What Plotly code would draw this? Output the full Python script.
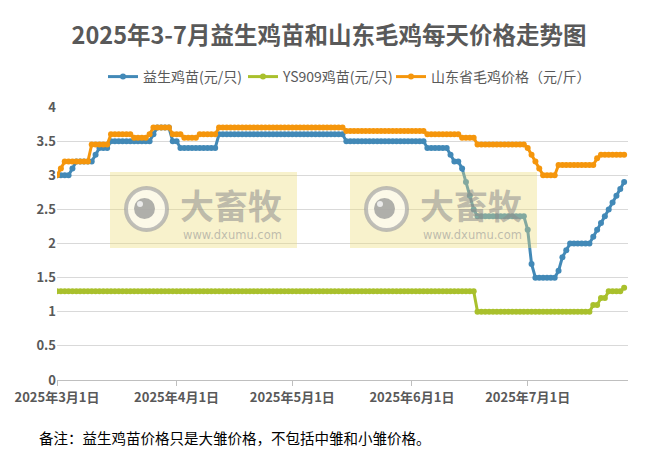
import pandas as pd
import plotly.graph_objects as go

# =============================================
# 1. Data (daily)
# =============================================
START_DATE = "2025-03-01"

# 益生鸡苗(元/只)
yisheng = [
    3.0, 3.0, 3.0, 3.0, 3.1, 3.2, 3.2, 3.2, 3.2, 3.2,      # 3/1 - 3/10
    3.3, 3.4, 3.4, 3.4, 3.5, 3.5, 3.5, 3.5, 3.5, 3.5,
    3.5, 3.5, 3.5, 3.5, 3.5, 3.6, 3.7, 3.7, 3.7, 3.7,
    3.5, 3.5, 3.4, 3.4, 3.4, 3.4, 3.4, 3.4, 3.4, 3.4,
    3.4, 3.4, 3.6, 3.6, 3.6, 3.6, 3.6, 3.6, 3.6, 3.6,
    3.6, 3.6, 3.6, 3.6, 3.6, 3.6, 3.6, 3.6, 3.6, 3.6,
    3.6, 3.6, 3.6, 3.6, 3.6, 3.6, 3.6, 3.6, 3.6, 3.6,
    3.6, 3.6, 3.6, 3.6, 3.6, 3.5, 3.5, 3.5, 3.5, 3.5,
    3.5, 3.5, 3.5, 3.5, 3.5, 3.5, 3.5, 3.5, 3.5, 3.5,
    3.5, 3.5, 3.5, 3.5, 3.5, 3.5, 3.4, 3.4, 3.4, 3.4,
    3.4, 3.4, 3.3, 3.2, 3.2, 3.1, 2.9, 2.7, 2.5, 2.4,
    2.4, 2.4, 2.4, 2.4, 2.4, 2.4, 2.4, 2.4, 2.4, 2.4,
    2.4, 2.4, 2.2, 1.7, 1.5, 1.5, 1.5, 1.5, 1.5, 1.5,
    1.6, 1.8, 1.9, 2.0, 2.0, 2.0, 2.0, 2.0, 2.0, 2.1,
    2.2, 2.3, 2.4, 2.5, 2.6, 2.7, 2.8, 2.9,
]

# YS909鸡苗(元/只)
ys909 = [
    1.3, 1.3, 1.3, 1.3, 1.3, 1.3, 1.3, 1.3, 1.3, 1.3,
    1.3, 1.3, 1.3, 1.3, 1.3, 1.3, 1.3, 1.3, 1.3, 1.3,
    1.3, 1.3, 1.3, 1.3, 1.3, 1.3, 1.3, 1.3, 1.3, 1.3,
    1.3, 1.3, 1.3, 1.3, 1.3, 1.3, 1.3, 1.3, 1.3, 1.3,
    1.3, 1.3, 1.3, 1.3, 1.3, 1.3, 1.3, 1.3, 1.3, 1.3,
    1.3, 1.3, 1.3, 1.3, 1.3, 1.3, 1.3, 1.3, 1.3, 1.3,
    1.3, 1.3, 1.3, 1.3, 1.3, 1.3, 1.3, 1.3, 1.3, 1.3,
    1.3, 1.3, 1.3, 1.3, 1.3, 1.3, 1.3, 1.3, 1.3, 1.3,
    1.3, 1.3, 1.3, 1.3, 1.3, 1.3, 1.3, 1.3, 1.3, 1.3,
    1.3, 1.3, 1.3, 1.3, 1.3, 1.3, 1.3, 1.3, 1.3, 1.3,
    1.3, 1.3, 1.3, 1.3, 1.3, 1.3, 1.3, 1.3, 1.3, 1.0,
    1.0, 1.0, 1.0, 1.0, 1.0, 1.0, 1.0, 1.0, 1.0, 1.0,
    1.0, 1.0, 1.0, 1.0, 1.0, 1.0, 1.0, 1.0, 1.0, 1.0,
    1.0, 1.0, 1.0, 1.0, 1.0, 1.0, 1.0, 1.0, 1.0, 1.1,
    1.1, 1.2, 1.2, 1.3, 1.3, 1.3, 1.3, 1.35,
]

# 山东省毛鸡价格（元/斤）
maoji = [
    3.0, 3.1, 3.2, 3.2, 3.2, 3.2, 3.2, 3.2, 3.2, 3.45,
    3.45, 3.45, 3.45, 3.45, 3.6, 3.6, 3.6, 3.6, 3.6, 3.6,
    3.55, 3.55, 3.55, 3.55, 3.6, 3.7, 3.7, 3.7, 3.7, 3.7,
    3.6, 3.6, 3.6, 3.55, 3.55, 3.55, 3.55, 3.6, 3.6, 3.6,
    3.6, 3.6, 3.7, 3.7, 3.7, 3.7, 3.7, 3.7, 3.7, 3.7,
    3.7, 3.7, 3.7, 3.7, 3.7, 3.7, 3.7, 3.7, 3.7, 3.7,
    3.7, 3.7, 3.7, 3.7, 3.7, 3.7, 3.7, 3.7, 3.7, 3.7,
    3.7, 3.7, 3.7, 3.7, 3.7, 3.65, 3.65, 3.65, 3.65, 3.65,
    3.65, 3.65, 3.65, 3.65, 3.65, 3.65, 3.65, 3.65, 3.65, 3.65,
    3.65, 3.65, 3.65, 3.65, 3.65, 3.65, 3.6, 3.6, 3.6, 3.6,
    3.6, 3.6, 3.6, 3.6, 3.6, 3.55, 3.55, 3.55, 3.55, 3.45,
    3.45, 3.45, 3.45, 3.45, 3.45, 3.45, 3.45, 3.45, 3.45, 3.45,
    3.45, 3.45, 3.4, 3.3, 3.2, 3.1, 3.0, 3.0, 3.0, 3.0,
    3.15, 3.15, 3.15, 3.15, 3.15, 3.15, 3.15, 3.15, 3.15, 3.15,
    3.25, 3.3, 3.3, 3.3, 3.3, 3.3, 3.3, 3.3,
]

series_names = ["益生鸡苗(元/只)", "YS909鸡苗(元/只)", "山东省毛鸡价格（元/斤）"]
series_colors = ["#4289B7", "#A9C02C", "#F5960C"]

tick_dates = ["2025-03-01", "2025-04-01", "2025-05-01", "2025-06-01", "2025-07-01"]
tick_labels = ["2025年3月1日", "2025年4月1日", "2025年5月1日", "2025年6月1日", "2025年7月1日"]
y_ticks = [0, 0.5, 1, 1.5, 2, 2.5, 3, 3.5, 4]
y_labels = ["0", "0.5", "1", "1.5", "2", "2.5", "3", "3.5", "4"]

dates = pd.date_range(START_DATE, periods=len(yisheng), freq="D")

# =============================================
# 2. Figure
# =============================================
# page is shown with an 8px body margin, so the figure is laid out 8px up/left
W, H = 666, 462
OFF = 8
L, T = 57 - OFF, 107 - OFF
R = W - (628 - OFF)
B = H - (380 - OFF)
FONT = "Noto Sans CJK SC"

def px(x, y):
    # page pixel -> paper coords
    return (x - 57) / (628 - 57), (380 - y) / (380 - 107)

legend_ids = ["legend", "legend2", "legend3"]
legend_left = [103, 243, 391]   # page px where each legend entry starts

fig = go.Figure()
for name, vals, col, lg in zip(series_names, [yisheng, ys909, maoji], series_colors, legend_ids):
    fig.add_trace(go.Scatter(
        x=dates, y=vals, name=name, mode="lines+markers",
        line=dict(color=col, width=3),
        marker=dict(color=col, size=6),
        legend=lg, showlegend=True,
    ))

legends = {}
for lg, left in zip(legend_ids, legend_left):
    lx, ly = px(left, 77)
    legends[lg] = dict(orientation="h", x=lx, y=ly, xanchor="left", yanchor="middle",
                       font=dict(family=FONT, size=14, color="#595959"), itemwidth=30,
                       bgcolor="rgba(0,0,0,0)", visible=True)

# watermarks
shapes = []
annotations = []
for dx in [0, 240]:
    x0, y0 = px(110 + dx, 248)
    x1, y1 = px(297 + dx, 172)
    shapes.append(dict(type="rect", xref="paper", yref="paper", x0=x0, y0=y0, x1=x1, y1=y1,
                       fillcolor="rgba(236,220,120,0.38)", line_width=0, layer="above"))
    cx0, cy0 = px(126 + dx, 230)
    cx1, cy1 = px(167 + dx, 188)
    shapes.append(dict(type="circle", xref="paper", yref="paper", x0=cx0, y0=cy0, x1=cx1, y1=cy1,
                       fillcolor="rgba(255,255,255,0.55)", line=dict(color="rgba(165,165,165,0.7)", width=4),
                       layer="above"))
    dx0, dy0 = px(134 + dx, 219)
    dx1, dy1 = px(155 + dx, 198)
    shapes.append(dict(type="circle", xref="paper", yref="paper", x0=dx0, y0=dy0, x1=dx1, y1=dy1,
                       fillcolor="rgba(150,150,150,0.75)", line_width=0, layer="above"))
    hx0, hy0 = px(137 + dx, 207)
    hx1, hy1 = px(143 + dx, 201)
    shapes.append(dict(type="circle", xref="paper", yref="paper", x0=hx0, y0=hy0, x1=hx1, y1=hy1,
                       fillcolor="rgba(255,255,255,0.75)", line_width=0, layer="above"))
    tx, ty = px(231 + dx, 204)
    annotations.append(dict(text="<b>大畜牧</b>", xref="paper", yref="paper", x=tx, y=ty,
                            xanchor="center", yanchor="middle", showarrow=False,
                            font=dict(family=FONT, size=34, color="rgba(140,140,140,0.55)")))
    ux, uy = px(232 + dx, 235)
    annotations.append(dict(text="www.dxumu.com", xref="paper", yref="paper", x=ux, y=uy,
                            xanchor="center", yanchor="middle", showarrow=False,
                            font=dict(family="DejaVu Sans", size=11.5, color="rgba(150,150,150,0.6)")))

nx, ny = px(37, 437)
annotations.append(dict(text="备注：益生鸡苗价格只是大雏价格，不包括中雏和小雏价格。", xref="paper", yref="paper",
                        x=nx, y=ny, xanchor="left", yanchor="middle", showarrow=False,
                        font=dict(family=FONT, size=14.5, color="#000000")))

fig.update_layout(
    width=W, height=H,
    margin=dict(l=L, r=R, t=T, b=B),
    showlegend=True,
    paper_bgcolor="white", plot_bgcolor="white",
    font=dict(family=FONT, color="#595959"),
    title=dict(text="<b>2025年3-7月益生鸡苗和山东毛鸡每天价格走势图</b>",
               x=(329 - OFF) / W, xanchor="center", y=1 - (36 - OFF) / H, yanchor="middle",
               font=dict(family=FONT, size=23.5, color="#595959")),
    xaxis=dict(type="date", range=["2025-03-01", "2025-07-27"],
               tickvals=tick_dates, ticktext=tick_labels,
               ticks="outside", ticklen=5, tickcolor="#BFBFBF",
               showline=True, linecolor="#BFBFBF", linewidth=1,
               showgrid=False, zeroline=False, automargin=False,
               tickfont=dict(family=FONT, size=13, color="#595959", weight="bold")),
    yaxis=dict(range=[0, 4], tickvals=y_ticks, ticktext=y_labels,
               showgrid=True, gridcolor="#D9D9D9", gridwidth=1,
               zeroline=False, showline=False, automargin=False,
               tickfont=dict(family=FONT, size=13, color="#595959", weight="bold")),
    shapes=shapes,
    annotations=annotations,
    **legends,
)

fig.write_html("out.html")
